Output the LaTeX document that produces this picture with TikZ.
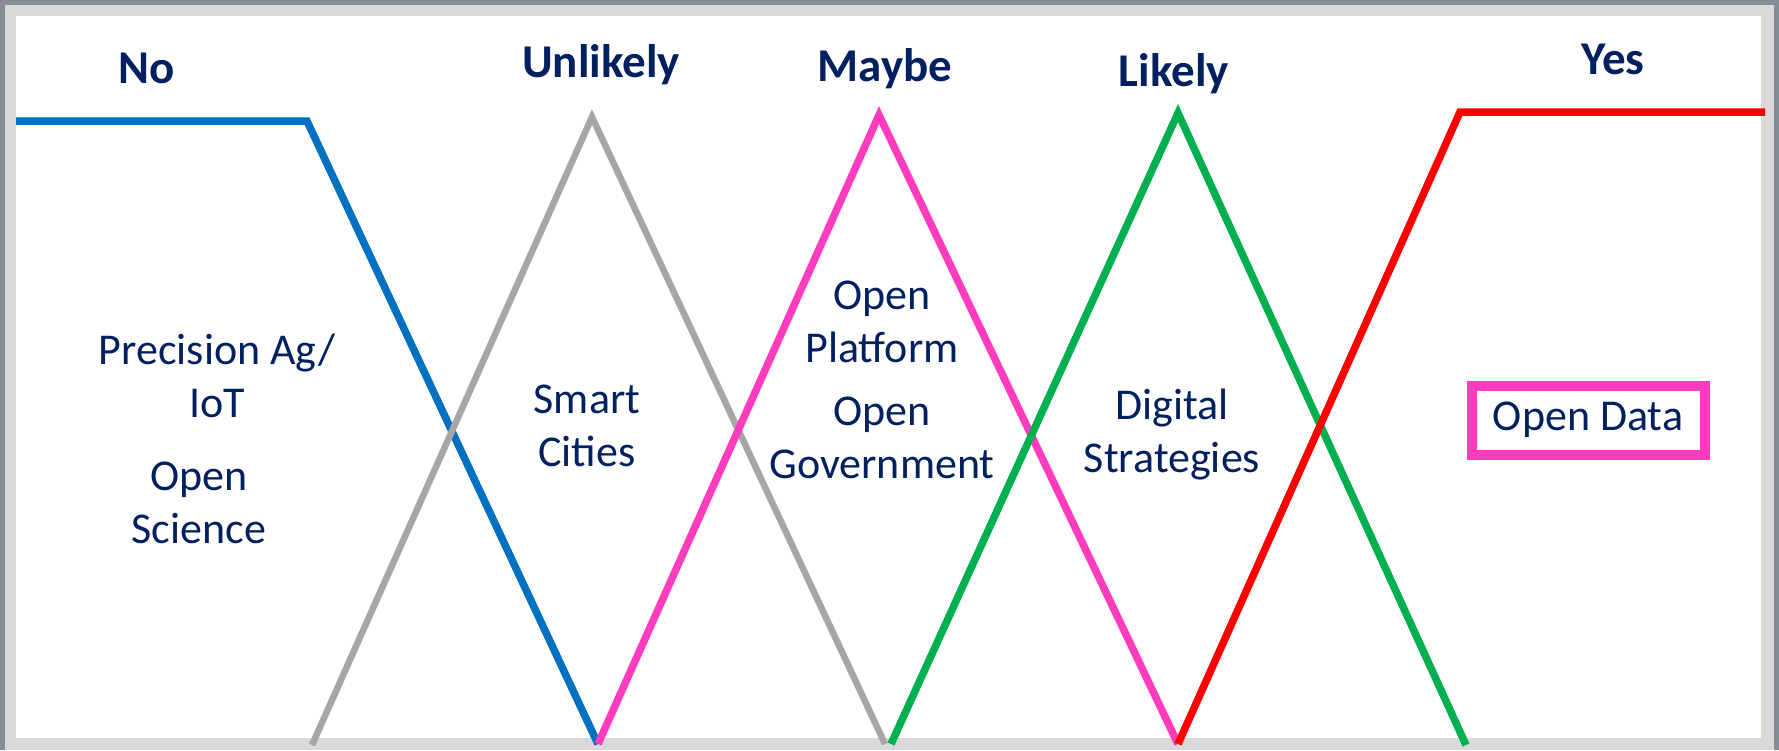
\documentclass[tikz,border=0pt]{standalone}
\usepackage{fontspec}
\setmainfont{Carlito}
\usetikzlibrary{positioning}
\definecolor{navy}{HTML}{002060}
\definecolor{lblue}{HTML}{0070C0}
\definecolor{lgray}{HTML}{A6A6A6}
\definecolor{lpink}{HTML}{FF3CBE}
\definecolor{lgreen}{HTML}{00B050}
\definecolor{lred}{HTML}{FF0000}
\definecolor{frameout}{HTML}{868C94}
\definecolor{framein}{HTML}{D9D9D9}
\tikzset{
	memb/.style={line width=7.5pt},
	grade/.style={anchor=base, text=navy, font=\fontsize{47}{52}\selectfont\bfseries, inner sep=0pt},
	sector/.style={align=center, text=navy, font=\fontsize{44}{53}\selectfont, inner sep=0pt},
	framed/.style={sector, draw=lpink, line width=10pt, minimum width=233pt, minimum height=69pt}
}
\begin{document}
\begin{tikzpicture}[x=1pt,y=-1pt]
	% frame
	\fill[frameout] (0,0) rectangle (1779,750);
	\fill[framein] (5,5) rectangle (1774,750);
	\fill[white] (16,16) rectangle (1761,738);
	
	% membership lines
	\draw[memb,lblue] (16,121) -- (307,121) -- (598,744);
	\draw[memb,lgray,line width=6.5pt] (312,745) -- (592,117) -- (885,744);
	\draw[memb,lpink] (598,744) -- (879,115) -- (1178,744);
	\draw[memb,lgreen] (891,744) -- (1178,113) -- (1466,745);
	\draw[memb,lred] (1178,744) -- (1460,112) -- (1765,112);
	
	% headings
	\node[grade] (no) at (147,83) {No};
	\node[grade] (unlikely) at (601,77) {Unlikely};
	\node[grade] (maybe) at (885,81) {Maybe};
	\node[grade] (likely) at (1174,86) {Likely};
	\node[grade] (yes) at (1613,74) {Yes};
	
	% sectors
	\node[sector] (precag) at (217,376) {Precision Ag/\\IoT};
	\node[sector] (science) at (199,503) {Open\\Science};
	\node[sector] (cities) at (587,426) {Smart\\Cities};
	\node[sector] (platform) at (882,322) {Open\\Platform};
	\node[sector] (govt) at (882,438) {Open\\Government};
	\node[sector] (digital) at (1172,434) {Digital\\Strategies};
	\node[framed] (data) at (1588,420) {Open Data};
\end{tikzpicture}
\end{document}
